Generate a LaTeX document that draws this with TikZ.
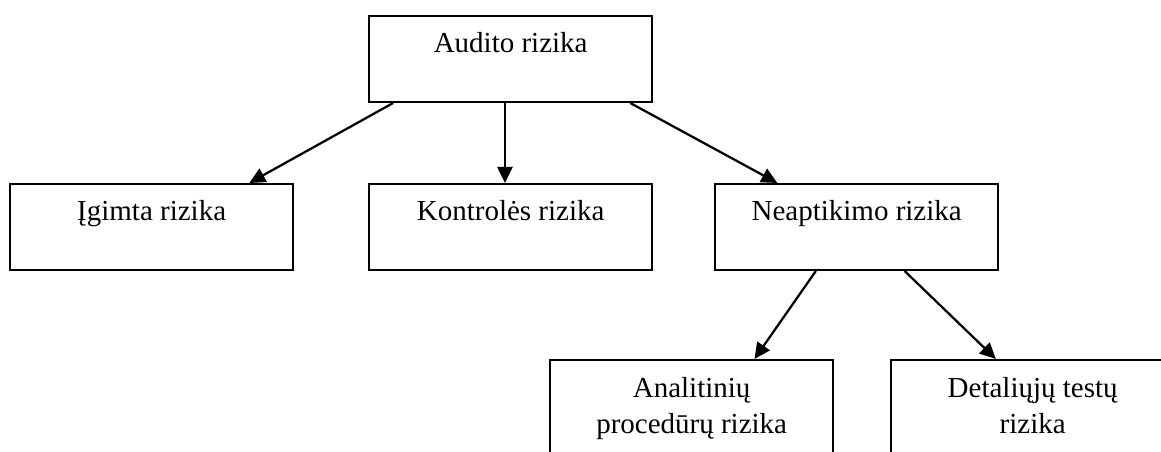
\documentclass[tikz,border=0pt]{standalone}
\usepackage{fontspec}
\setmainfont{Liberation Serif}
\usetikzlibrary{arrows.meta,calc}
\begin{document}
\begin{tikzpicture}[x=0.75pt,y=-0.75pt,
  box/.style={draw=black, line width=1.5pt, minimum width=212.5pt,
    minimum height=64.5pt, inner sep=0pt, anchor=north west},
  tallbox/.style={box, minimum height=78pt},
  lbl/.style={inner sep=0pt, anchor=base, align=center,
    font=\fontsize{21.75pt}{27.75pt}\selectfont},
  arr/.style={line width=1.7pt, -{Triangle[length=12pt,width=11.25pt]}}]
  \clip (0,0) rectangle (1161,452);
  \fill[white] (0,0) rectangle (1161,452);

  % boxes
  \node[box] (aud) at (368,15) {};
  \node[box] (ig) at (9,183) {};
  \node[box] (kon) at (368,183) {};
  \node[box] (nea) at (714,183) {};
  \node[tallbox] (ana) at (549,359) {};
  \node[tallbox] (det) at (890,359) {};

  % box texts (base anchor sits on the last line)
  \node[lbl] (audT) at ($(aud.north)+(0,38)$) {Audito rizika};
  \node[lbl] (igT) at ($(ig.north)+(0,37.5)$) {Įgimta rizika};
  \node[lbl] (konT) at ($(kon.north)+(0,37.5)$) {Kontrolės rizika};
  \node[lbl] (neaT) at ($(nea.north)+(0,37.5)$) {Neaptikimo rizika};
  \node[lbl] (anaT) at ($(ana.north)+(0,75)$) {Analitinių\\procedūrų rizika};
  \node[lbl] (detT) at ($(det.north)+(0,75)$) {Detaliųjų testų\\rizika};

  % connectors
  \draw[arr] ($(aud.south west)!0.088!(aud.south east)$) -- ($(ig.north west)!0.842!(ig.north east)$);
  \draw[arr] ($(aud.south west)!0.48!(aud.south east)$) -- ($(kon.north west)!0.48!(kon.north east)$);
  \draw[arr] ($(aud.south west)!0.919!(aud.south east)$) -- ($(nea.north west)!0.222!(nea.north east)$);
  \draw[arr] ($(nea.south west)!0.357!(nea.south east)$) -- ($(ana.north west)!0.72!(ana.north east)$);
  \draw[arr] ($(nea.south west)!0.668!(nea.south east)$) -- ($(det.north west)!0.371!(det.north east)$);
\end{tikzpicture}
\end{document}
